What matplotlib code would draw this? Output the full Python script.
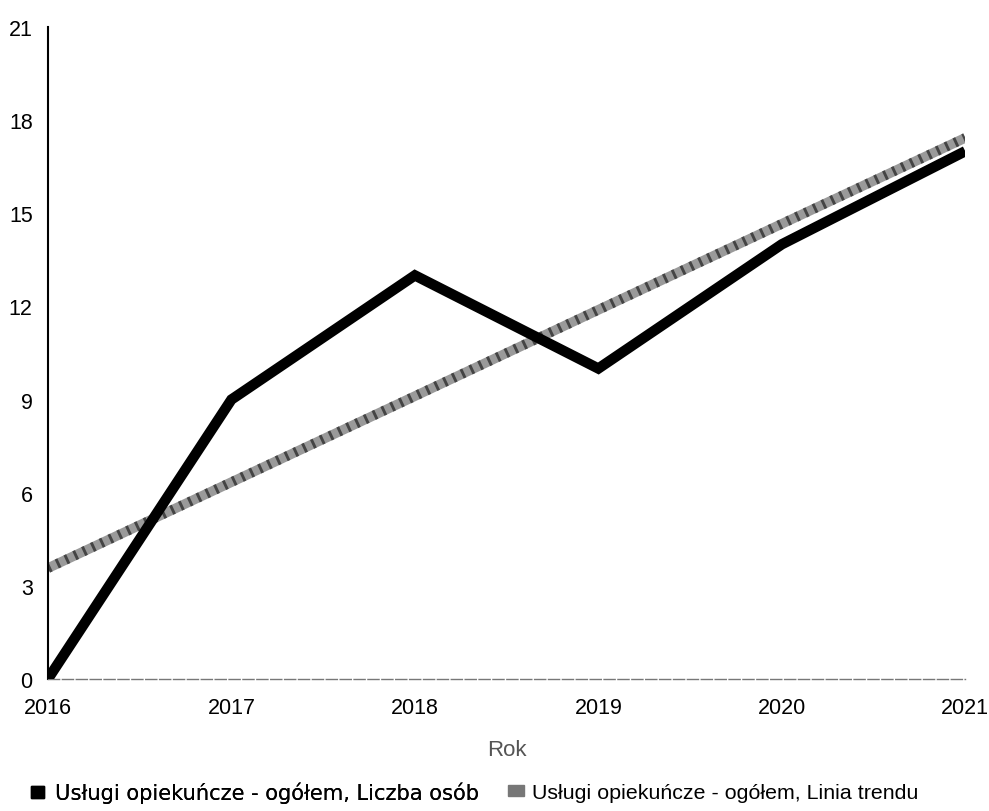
import matplotlib.pyplot as plt
from matplotlib.patches import Patch

plt.rcParams['font.family'] = ['Liberation Sans', 'DejaVu Sans']

years = [2016, 2017, 2018, 2019, 2020, 2021]
liczba_osob = [0, 9, 13, 10, 14, 17]
linia_trendu = [3.57, 6.34, 9.11, 11.89, 14.66, 17.43]
y_ticks = [0, 3, 6, 9, 12, 15, 18, 21]

fig = plt.figure(figsize=(9.89, 8.12), dpi=100)
ax = fig.add_axes([0.0485, 0.1626, 0.9275, 0.8029])

# linia trendu - szara, "ziarnista"
ax.plot(years, linia_trendu, color='#9a9a9a', linewidth=7, solid_capstyle='butt', zorder=2)
ax.plot(years, linia_trendu, color='#444444', linewidth=7, linestyle=(0, (0.3, 0.7)),
        dash_capstyle='butt', zorder=2)
ax.plot(years, liczba_osob, color='black', linewidth=7.5, solid_capstyle='butt',
        solid_joinstyle='miter', zorder=3)

ax.set_xlim(2016, 2021)
ax.set_ylim(0, 21)
ax.set_xticks(years)
ax.set_yticks(y_ticks)
ax.tick_params(axis='both', length=0, labelsize=15.5)
ax.tick_params(axis='y', pad=11)
ax.tick_params(axis='x', pad=13)

for s in ['top', 'right']:
    ax.spines[s].set_visible(False)
ax.spines['left'].set_color('black')
ax.spines['left'].set_linewidth(1.5)
ax.spines['bottom'].set_color('#777777')
ax.spines['bottom'].set_linewidth(1.0)
ax.spines['bottom'].set_linestyle((0, (8, 2)))

ax.set_xlabel('Rok', fontsize=16, color='#555555', labelpad=15)

# legenda - dwa wpisy ustawione osobno
leg1 = fig.legend([Patch(facecolor='black', edgecolor='black')],
                  ['Usługi opiekuńcze - ogółem, Liczba osób'],
                  loc='center left', bbox_to_anchor=(0.031, 0.0225), frameon=False,
                  handlelength=0.65, handleheight=0.45,
                  handletextpad=0.5, borderpad=0, borderaxespad=0,
                  prop={'family': 'DejaVu Sans', 'size': 15.1})
leg2 = fig.legend([Patch(facecolor='#777777', edgecolor='#777777', hatch='....')],
                  ['Usługi opiekuńcze - ogółem, Linia trendu'],
                  loc='center left', bbox_to_anchor=(0.5135, 0.0225), frameon=False,
                  handlelength=0.75, handleheight=0.45,
                  handletextpad=0.4, borderpad=0, borderaxespad=0,
                  prop={'family': 'Liberation Sans', 'size': 15.4})
fig.add_artist(leg1)

plt.savefig('out.png', dpi=100)
